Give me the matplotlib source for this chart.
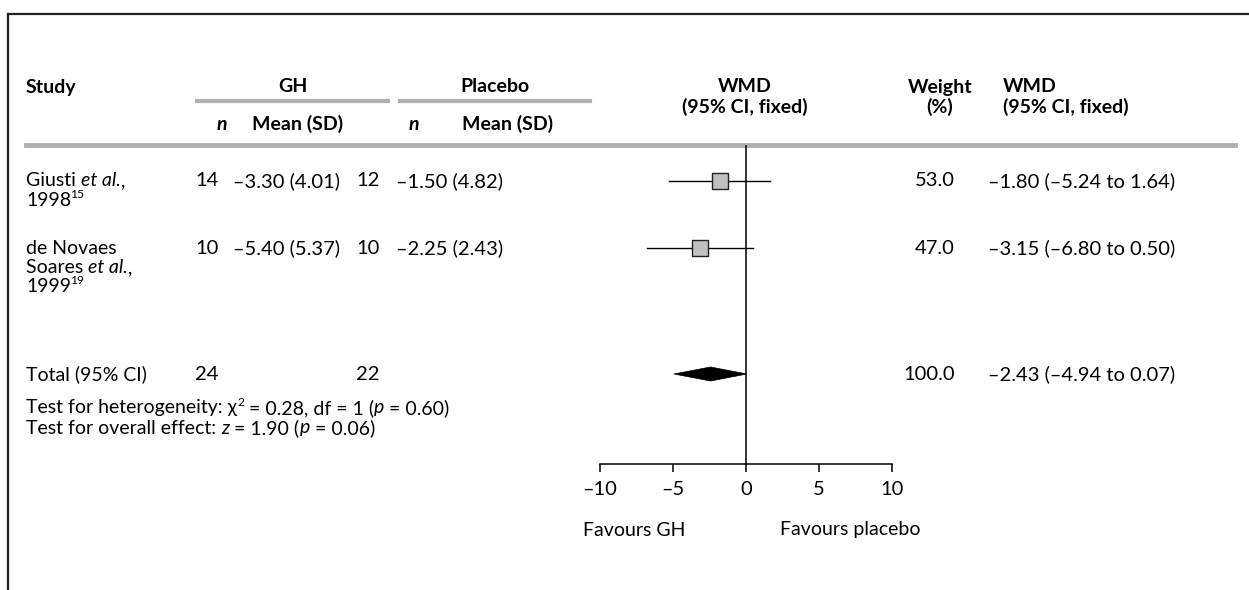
import matplotlib
matplotlib.use("Agg")
import matplotlib.pyplot as plt
from matplotlib.patches import Polygon

# data
study_lines = [
    [[("Giusti ", "normal"), ("et al.", "italic"), (",", "normal")],
     [("1998", "normal"), ("15", "sup")]],
    [[("de Novaes", "normal")],
     [("Soares ", "normal"), ("et al.", "italic"), (",", "normal")],
     [("1999", "normal"), ("19", "sup")]],
]
gh_n = [14, 10]
gh_mean = [-3.30, -5.40]
gh_sd = [4.01, 5.37]
pl_n = [12, 10]
pl_mean = [-1.50, -2.25]
pl_sd = [4.82, 2.43]
wmd = [-1.80, -3.15]
ci_lo = [-5.24, -6.80]
ci_hi = [1.64, 0.50]
weight = [53.0, 47.0]

total_gh_n = 24
total_pl_n = 22
total_wmd = -2.43
total_lo = -4.94
total_hi = 0.07
total_weight = 100.0

ticks = [-10, -5, 0, 5, 10]
het_parts = [("Test for heterogeneity: \u03c7", "normal"), ("2", "sup"),
             (" = 0.28, df = 1 (", "normal"), ("p", "italic"), (" = 0.60)", "normal")]
eff_parts = [("Test for overall effect: ", "normal"), ("z", "italic"),
             (" = 1.90 (", "normal"), ("p", "italic"), (" = 0.06)", "normal")]

# layout (pixels)
W, H = 1249, 590
row_y = [181, 248]
line_gap = 19.5
total_y = 374
FS = 14
FS_NUM = 14.5

plt.rcParams['font.family'] = ['Lato', 'DejaVu Sans']


def dash(s):
    return s.replace('-', '\u2013')


fig = plt.figure(figsize=(W / 100, H / 100), dpi=100)
ax0 = fig.add_axes([0, 0, 1, 1])
ax0.set_xlim(0, W)
ax0.set_ylim(H, 0)
ax0.axis('off')
renderer = fig.canvas.get_renderer()


def rich(x, y, parts, fs=FS):
    # draw text pieces one after another on the pixel axes
    for s, kind in parts:
        if kind == "sup":
            t = ax0.text(x, y - 6, s, fontsize=fs * 0.62, va='center')
        else:
            t = ax0.text(x, y, s, fontsize=fs, style=kind, va='center')
        x += t.get_window_extent(renderer).width


# frame
ax0.plot([8, W], [14, 14], color='#222222', lw=1.6)
ax0.plot([8, 8], [14, H], color='#222222', lw=1.6)

# header
hy1, hy2, hy3 = 87, 107, 124
bold = dict(fontsize=FS, fontweight='bold', va='center')
ax0.text(26, hy1, "Study", **bold)
ax0.text(293, hy1, "GH", ha='center', **bold)
ax0.text(495, hy1, "Placebo", ha='center', **bold)
ax0.plot([197, 388], [101, 101], color='#b0b0b0', lw=3)
ax0.plot([400, 590], [101, 101], color='#b0b0b0', lw=3)
for nx, mx in [(222, 298), (414, 508)]:
    ax0.text(nx, hy3, "n", style='italic', ha='center', **bold)
    ax0.text(mx, hy3, "Mean (SD)", ha='center', **bold)
ax0.text(745, hy1, "WMD", ha='center', **bold)
ax0.text(745, hy2, "(95% CI, fixed)", ha='center', **bold)
ax0.text(940, hy1, "Weight", ha='center', **bold)
ax0.text(940, hy2, "(%)", ha='center', **bold)
ax0.text(1003, hy1, "WMD", **bold)
ax0.text(1003, hy2, "(95% CI, fixed)", **bold)
ax0.plot([26, 1235], [145, 145], color='#b0b0b0', lw=3.5)

# study rows
reg = dict(fontsize=FS, va='center')
num = dict(fontsize=FS_NUM, va='center')
for i, y in enumerate(row_y):
    for k, parts in enumerate(study_lines[i]):
        rich(26, y + k * line_gap, parts)
    ax0.text(219, y, str(gh_n[i]), ha='right', **num)
    ax0.text(233, y, dash(f"{gh_mean[i]:.2f} ({gh_sd[i]:.2f})"), **num)
    ax0.text(380, y, str(pl_n[i]), ha='right', **num)
    ax0.text(396, y, dash(f"{pl_mean[i]:.2f} ({pl_sd[i]:.2f})"), **num)
    ax0.text(955, y, f"{weight[i]:.1f}", ha='right', **num)
    ax0.text(988, y, dash(f"{wmd[i]:.2f} ({ci_lo[i]:.2f} to {ci_hi[i]:.2f})"), **num)

ax0.text(26, total_y, "Total (95% CI)", **reg)
ax0.text(219, total_y, str(total_gh_n), ha='right', **num)
ax0.text(380, total_y, str(total_pl_n), ha='right', **num)
ax0.text(955, total_y, f"{total_weight:.1f}", ha='right', **num)
ax0.text(988, total_y, dash(f"{total_wmd:.2f} ({total_lo:.2f} to {total_hi:.2f})"), **num)
rich(26, 408, het_parts)
rich(26, 428, eff_parts)

# forest plot
ax = fig.add_axes([600 / W, 0, 292 / W, 1])
ax.set_facecolor('none')
ax.set_xlim(-10, 10)
ax.set_ylim(H, 0)
for s in ['top', 'left', 'right']:
    ax.spines[s].set_visible(False)
ax.spines['bottom'].set_position(('data', 464))
ax.spines['bottom'].set_bounds(-10, 10)
ax.spines['bottom'].set_linewidth(1.1)
ax.set_yticks([])
ax.set_xticks(ticks)
ax.set_xticklabels([dash(str(t)) for t in ticks], fontsize=FS_NUM)
ax.tick_params(axis='x', direction='out', length=6, width=1.1, pad=6)

ax.plot([0, 0], [146, 464], color='black', lw=1.1)
for i, y in enumerate(row_y):
    ax.plot([ci_lo[i], ci_hi[i]], [y, y], color='black', lw=1)
    side = 16 * (weight[i] / weight[0]) ** 0.5
    ax.scatter([wmd[i]], [y], marker='s', s=(side * 0.72) ** 2,
               facecolor='#c0c0c0', edgecolor='#222222', linewidth=1, zorder=3)

dh = 7
ax.add_patch(Polygon([(total_lo, total_y), (total_wmd, total_y - dh),
                      (total_hi, total_y), (total_wmd, total_y + dh)],
                     closed=True, facecolor='black', edgecolor='black', lw=0.5))

ax0.text(583, 530, "Favours GH", **reg)
ax0.text(780, 530, "Favours placebo", **reg)

fig.savefig("out.png", dpi=100)
